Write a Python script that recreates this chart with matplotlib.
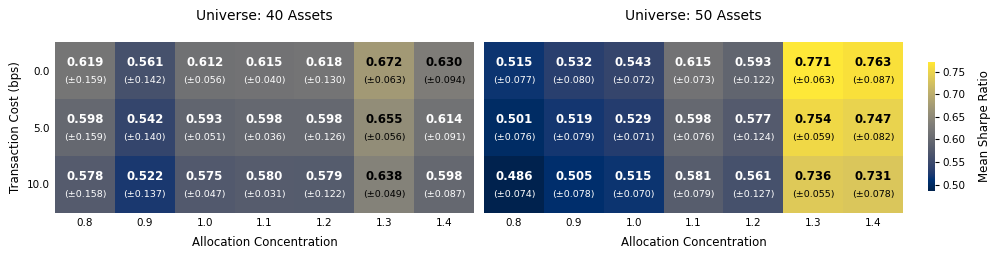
import numpy as np
import matplotlib
matplotlib.use("Agg")
import matplotlib.pyplot as plt

# Axis categories
alloc = ["0.8", "0.9", "1.0", "1.1", "1.2", "1.3", "1.4"]
costs = ["0.0", "5.0", "10.0"]

# Mean Sharpe ratio, 40 assets (rows = transaction cost)
mean_40 = np.array([
    [0.619, 0.561, 0.612, 0.615, 0.618, 0.672, 0.630],
    [0.598, 0.542, 0.593, 0.598, 0.598, 0.655, 0.614],
    [0.578, 0.522, 0.575, 0.580, 0.579, 0.638, 0.598],
])
std_40 = np.array([
    [0.159, 0.142, 0.056, 0.040, 0.130, 0.063, 0.094],
    [0.159, 0.140, 0.051, 0.036, 0.126, 0.056, 0.091],
    [0.158, 0.137, 0.047, 0.031, 0.122, 0.049, 0.087],
])

# Mean Sharpe ratio, 50 assets
mean_50 = np.array([
    [0.515, 0.532, 0.543, 0.615, 0.593, 0.771, 0.763],
    [0.501, 0.519, 0.529, 0.598, 0.577, 0.754, 0.747],
    [0.486, 0.505, 0.515, 0.581, 0.561, 0.736, 0.731],
])
std_50 = np.array([
    [0.077, 0.080, 0.072, 0.073, 0.122, 0.063, 0.087],
    [0.076, 0.079, 0.071, 0.076, 0.124, 0.059, 0.082],
    [0.074, 0.078, 0.070, 0.079, 0.127, 0.055, 0.078],
])

titles = ["Universe: 40 Assets", "Universe: 50 Assets"]

vmin = min(mean_40.min(), mean_50.min())
vmax = max(mean_40.max(), mean_50.max())
mid = (vmin + vmax) / 2

fig = plt.figure(figsize=(9.96, 2.57), dpi=100)
ax1 = fig.add_axes([55 / 996, 44 / 257, 419 / 996, 171 / 257])
ax2 = fig.add_axes([484 / 996, 44 / 257, 419 / 996, 171 / 257])
cax = fig.add_axes([928 / 996, 66 / 257, 7 / 996, 129 / 257])

for ax, m, s, title in [(ax1, mean_40, std_40, titles[0]), (ax2, mean_50, std_50, titles[1])]:
    im = ax.pcolormesh(m, cmap="cividis", vmin=vmin, vmax=vmax)
    ax.set_xlim(0, len(alloc))
    ax.set_ylim(len(costs), 0)
    for i in range(m.shape[0]):
        for j in range(m.shape[1]):
            col = "black" if m[i, j] > mid else "white"
            ax.text(j + 0.5, i + 0.36, f"{m[i, j]:.3f}", ha="center", va="center",
                    color=col, fontsize=8.5, fontweight="bold")
            ax.text(j + 0.5, i + 0.67, f"(±{s[i, j]:.3f})", ha="center", va="center",
                    color=col, fontsize=6.8)
    ax.set_xticks(np.arange(len(alloc)) + 0.5)
    ax.set_xticklabels(alloc, fontsize=7.5)
    ax.tick_params(length=0, pad=3.5)
    ax.set_xlabel("Allocation Concentration", fontsize=8.5, labelpad=6)
    ax.set_title(title, fontsize=10, pad=16)
    for sp in ax.spines.values():
        sp.set_visible(False)

ax1.set_yticks(np.arange(len(costs)) + 0.5)
ax1.set_yticklabels(costs, fontsize=7.5)
ax1.set_ylabel("Transaction Cost (bps)", fontsize=8.5, labelpad=4)
ax2.set_yticks([])

cb = fig.colorbar(im, cax=cax)
cb.outline.set_visible(False)
cb.ax.tick_params(labelsize=7.5, length=3, pad=2)
cb.set_ticks([0.50, 0.55, 0.60, 0.65, 0.70, 0.75])
cb.set_label("Mean Sharpe Ratio", fontsize=8.5, labelpad=9)

fig.savefig("out.png", dpi=100)
